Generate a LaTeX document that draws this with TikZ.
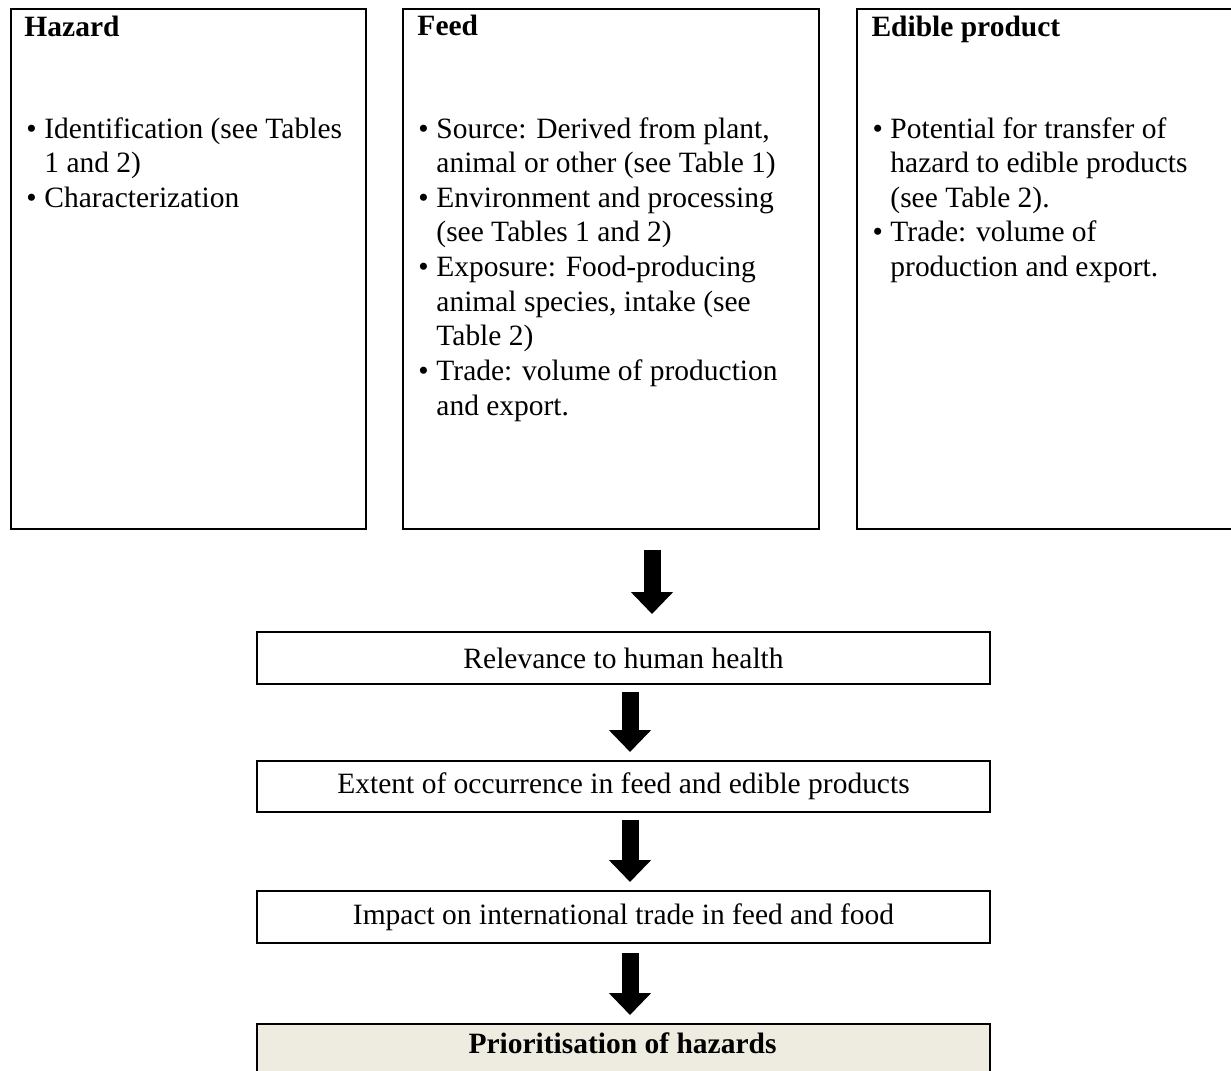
\documentclass[tikz,border=0pt]{standalone}
\usepackage{fontspec}
\setmainfont{Liberation Serif}
\usetikzlibrary{arrows.meta}
\definecolor{priofill}{RGB}{238,235,224}
\newcommand{\bul}{\makebox[7.3pt][l]{\textbullet}}
\begin{document}
\begin{tikzpicture}[x=0.407pt,y=-0.407pt,
  frame/.style={draw=black, line width=0.85pt, anchor=north west, inner sep=0pt},
  txt/.style={inner sep=0pt, font=\fontsize{12}{14.1}\selectfont},
  head/.style={inner sep=0pt, anchor=base west, font=\fontsize{12}{14.1}\selectfont\bfseries},
  list/.style={txt, anchor=base west},
  flowbox/.style={frame, minimum width=733*0.407pt, font=\fontsize{12}{14.1}\selectfont},
  bigarrow/.style={line width=17*0.407pt, -{Triangle[width=41*0.407pt, length=22*0.407pt]}}
]
\useasboundingbox (0,0) rectangle (1231,1070);

% top boxes
\node[frame, minimum width=355*0.407pt, minimum height=520*0.407pt] (hazard) at (10,8) {};
\node[frame, minimum width=416*0.407pt, minimum height=520*0.407pt] (feed) at (402,8) {};
\node[frame, minimum width=400*0.407pt, minimum height=520*0.407pt] (edible) at (856,8) {};

\node[head] (hazardT) at (24,37) {Hazard};
\node[head] (feedT) at (417,36) {Feed};
\node[head] (edibleT) at (871,37) {Edible product};

\node[list] (hazardL) at (26,138) {\begin{tabular}[t]{@{}l@{}l@{}}
\bul & Identification (see Tables\\
 & 1 and 2)\\
\bul & Characterization
\end{tabular}};

\node[list] (feedL) at (418,138) {\begin{tabular}[t]{@{}l@{}l@{}}
\bul & Source: Derived from plant,\\
 & animal or other (see Table 1)\\
\bul & Environment and processing\\
 & (see Tables 1 and 2)\\
\bul & Exposure: Food-producing\\
 & animal species, intake (see\\
 & Table 2)\\
\bul & Trade: volume of production\\
 & and export.
\end{tabular}};

\node[list] (edibleL) at (872,138) {\begin{tabular}[t]{@{}l@{}l@{}}
\bul & Potential for transfer of\\
 & hazard to edible products\\
 & (see Table 2).\\
\bul & Trade: volume of\\
 & production and export.
\end{tabular}};

% flow boxes
\node[flowbox, minimum height=52*0.407pt] (rel) at (256,631) {Relevance to human health};
\node[flowbox, minimum height=51*0.407pt] (ext) at (256,760) {Extent of occurrence in feed and edible products};
\node[flowbox, minimum height=52*0.407pt] (imp) at (256,890) {Impact on international trade in feed and food};
\node[frame, fill=priofill, minimum width=733*0.407pt, minimum height=80*0.407pt] (prio) at (256,1023) {};
\node[head, anchor=base] (prioT) at (622.5,1053) {Prioritisation of hazards};

% arrows
\coordinate (a1s) at (652,550);
\coordinate (a1e) at (652,614);
\coordinate (a2s) at (630,692);
\coordinate (a2e) at (630,752);
\coordinate (a3s) at (630,820);
\coordinate (a3e) at (630,882);
\coordinate (a4s) at (630,953);
\coordinate (a4e) at (630,1015);
\draw[bigarrow] (a1s) -- (a1e);
\draw[bigarrow] (a2s) -- (a2e);
\draw[bigarrow] (a3s) -- (a3e);
\draw[bigarrow] (a4s) -- (a4e);
\end{tikzpicture}
\end{document}
